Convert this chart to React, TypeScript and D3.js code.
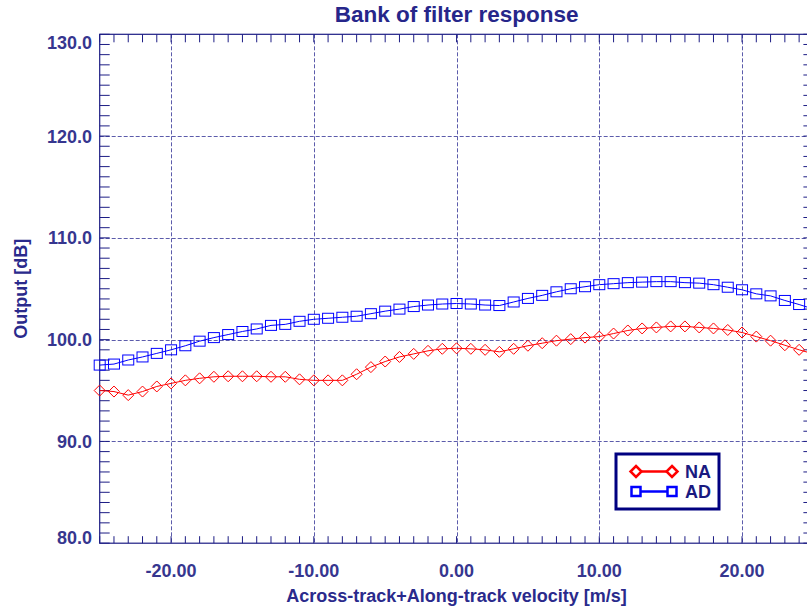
import React from "react";
import * as d3 from "d3";

const velocities: number[] = d3.range(-25, 26, 1);

const naValues: number[] = [
  95.0, 94.9, 94.55, 94.9, 95.4, 95.7, 96.0, 96.2, 96.35, 96.4, 96.4, 96.4, 96.35,
  96.35, 96.1, 96.0, 96.0, 96.0, 96.6, 97.3, 97.85, 98.3, 98.6, 98.9, 99.1,
  99.15, 99.1, 99.0, 98.8, 99.1, 99.4, 99.65, 99.9, 100.05, 100.2, 100.3, 100.6, 100.9,
  101.1, 101.2, 101.3, 101.3, 101.2, 101.1, 100.95, 100.7, 100.3, 99.9, 99.45, 99.0, 98.6,
];

const adValues: number[] = [
  97.5, 97.6, 98.0, 98.3, 98.65, 99.0, 99.4, 99.85, 100.2, 100.5, 100.8, 101.05, 101.4,
  101.5, 101.8, 102.0, 102.1, 102.2, 102.3, 102.55, 102.8, 103.0, 103.25, 103.4, 103.5,
  103.55, 103.5, 103.4, 103.35, 103.7, 104.05, 104.35, 104.7, 105.0, 105.2, 105.4, 105.5, 105.6,
  105.65, 105.7, 105.7, 105.6, 105.55, 105.4, 105.15, 104.9, 104.5, 104.3, 103.85, 103.45, 103.0,
];

const xTicks: number[] = [-20, -10, 0, 10, 20];
const yTicks: number[] = [80, 90, 100, 110, 120, 130];
const xMinorTicks: number[] = d3.range(-25, 26, 1);
const yMinorTicks: number[] = d3.range(80, 131, 1);

const seriesNames: string[] = ["NA", "AD"];

const W = 807;
const H = 612;
const FONT = "'Liberation Sans', Arial, Helvetica, sans-serif";
const AXIS = "#1c1c84";
const GRID = "#5c5cab";
const TEXT = "#36368f";

const locale = d3.formatLocale({
  decimal: ".",
  thousands: ",",
  grouping: [3],
  currency: ["", ""],
  minus: "-",
});
const fmtX = locale.format(".2f");
const fmtY = locale.format(".1f");

export default function App() {
  const left = 99.7;
  const right = 813.4;
  const top = 34.3;
  const bottom = 543.2;

  const x = d3.scaleLinear().domain([-25, 25]).range([left, right]);
  const y = d3.scaleLinear().domain([80, 130]).range([bottom, top]);

  const naLine = d3
    .line<number>()
    .x((_, i) => x(velocities[i]))
    .y((d) => y(d))(naValues) as string;
  const adLine = d3
    .line<number>()
    .x((_, i) => x(velocities[i]))
    .y((d) => y(d))(adValues) as string;

  const diamond = (cx: number, cy: number, r: number) =>
    `M${cx},${cy - r}L${cx + r},${cy}L${cx},${cy + r}L${cx - r},${cy}Z`;

  const legX0 = 636;
  const legX1 = 672;
  const legY = [471.5, 491.5];

  return (
    <svg
      width={W}
      height={H}
      style={{ position: "absolute", left: 0, top: 0, background: "#fff" }}
      fontFamily={FONT}
    >
      <rect x={0} y={0} width={W} height={H} fill="#fff" />
      <text
        x={(left + right) / 2}
        y={22}
        textAnchor="middle"
        fontSize={22.5}
        fontWeight="bold"
        fill="#26268a"
      >
        Bank of filter response
      </text>

      {xTicks.map((t) => (
        <line
          key={"gx" + t}
          x1={Math.round(x(t)) + 0.5}
          x2={Math.round(x(t)) + 0.5}
          y1={top}
          y2={bottom}
          stroke={GRID}
          strokeWidth={1}
          strokeDasharray="4,2"
        />
      ))}
      {yTicks.slice(1, -1).map((t) => (
        <line
          key={"gy" + t}
          x1={left}
          x2={right}
          y1={Math.round(y(t)) + 0.5}
          y2={Math.round(y(t)) + 0.5}
          stroke={GRID}
          strokeWidth={1}
          strokeDasharray="4,2"
        />
      ))}

      {xMinorTicks.map((t) => (
        <g key={"tx" + t}>
          <line x1={x(t)} x2={x(t)} y1={top} y2={top + 8} stroke={AXIS} strokeWidth={1} />
          <line x1={x(t)} x2={x(t)} y1={bottom} y2={bottom - 7} stroke={AXIS} strokeWidth={1} />
        </g>
      ))}
      {yMinorTicks.map((t) => (
        <g key={"ty" + t}>
          <line x1={left} x2={left + 10} y1={y(t)} y2={y(t)} stroke={AXIS} strokeWidth={1} />
          <line x1={right} x2={right - 10} y1={y(t)} y2={y(t)} stroke={AXIS} strokeWidth={1} />
        </g>
      ))}

      <rect
        x={left}
        y={top}
        width={right - left}
        height={bottom - top}
        fill="none"
        stroke={AXIS}
        strokeWidth={1.2}
      />

      {xTicks.map((t) => (
        <text
          key={"lx" + t}
          x={x(t)}
          y={577}
          textAnchor="middle"
          fontSize={18}
          fontWeight="bold"
          fill={TEXT}
        >
          {fmtX(t)}
        </text>
      ))}
      {yTicks.map((t) => (
        <text
          key={"ly" + t}
          x={92}
          y={Math.min(Math.max(y(t), 43), 537.5)}
          dy="0.36em"
          textAnchor="end"
          fontSize={18}
          fontWeight="bold"
          fill={TEXT}
        >
          {fmtY(t)}
        </text>
      ))}

      <text
        x={(left + right) / 2}
        y={602}
        textAnchor="middle"
        fontSize={18}
        fontWeight="bold"
        fill="#2a2a8c"
      >
        Across-track+Along-track velocity [m/s]
      </text>
      <text
        transform={`translate(27,${(top + bottom) / 2}) rotate(-90)`}
        textAnchor="middle"
        fontSize={18}
        fontWeight="bold"
        fill="#2a2a8c"
      >
        Output [dB]
      </text>

      <path d={naLine} fill="none" stroke="#ff0000" strokeWidth={1} />
      {naValues.map((v, i) => (
        <path
          key={"na" + i}
          d={diamond(x(velocities[i]), y(v), 5.5)}
          fill="none"
          stroke="#ff0000"
          strokeWidth={1}
        />
      ))}
      <path d={adLine} fill="none" stroke="#0000ff" strokeWidth={1} />
      {adValues.map((v, i) => (
        <rect
          key={"ad" + i}
          x={x(velocities[i]) - 5.5}
          y={y(v) - 5}
          width={11}
          height={10}
          fill="none"
          stroke="#0000ff"
          strokeWidth={1}
        />
      ))}

      <rect x={616} y={454} width={103} height={55} fill="#fff" stroke="#000080" strokeWidth={3} />
      <line x1={legX0} x2={legX1} y1={legY[0]} y2={legY[0]} stroke="#ff0000" strokeWidth={2.5} />
      <path d={diamond(legX0, legY[0], 5.5)} fill="#fff" stroke="#ff0000" strokeWidth={2.5} />
      <path d={diamond(legX1, legY[0], 5.5)} fill="#fff" stroke="#ff0000" strokeWidth={2.5} />
      <line x1={legX0} x2={legX1} y1={legY[1]} y2={legY[1]} stroke="#0000ff" strokeWidth={2.5} />
      <rect x={legX0 - 4.5} y={legY[1] - 4.5} width={9} height={9} fill="#fff" stroke="#0000ff" strokeWidth={2.5} />
      <rect x={legX1 - 4.5} y={legY[1] - 4.5} width={9} height={9} fill="#fff" stroke="#0000ff" strokeWidth={2.5} />
      {seriesNames.map((n, i) => (
        <text
          key={n}
          x={685}
          y={legY[i]}
          dy="0.36em"
          fontSize={18}
          fontWeight="bold"
          fill="#1a1a80"
        >
          {n}
        </text>
      ))}
    </svg>
  );
}
